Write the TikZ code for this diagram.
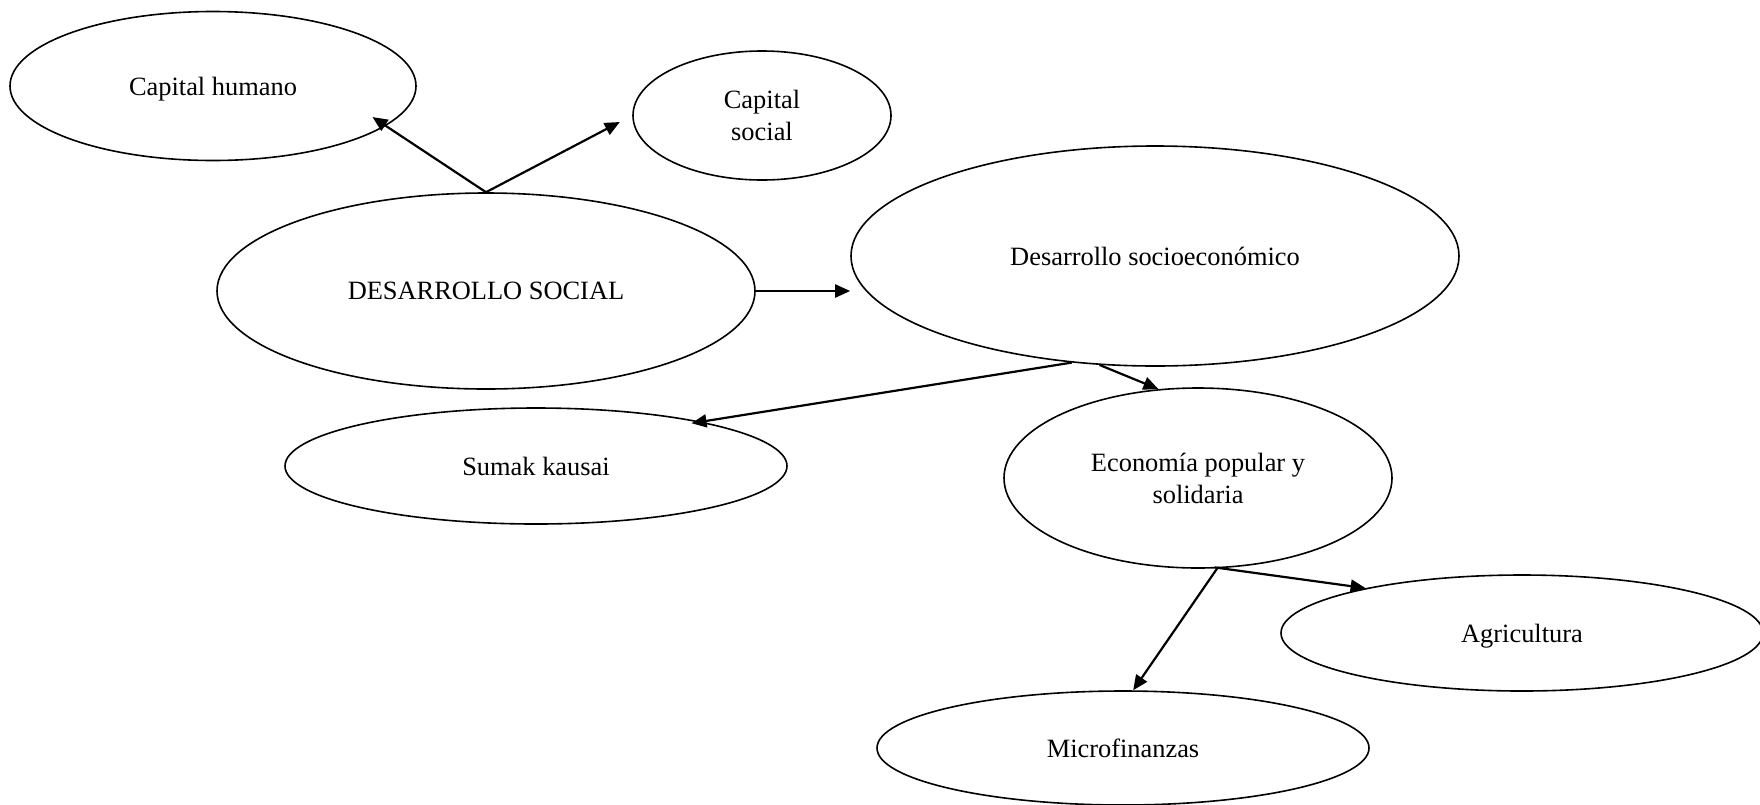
\documentclass[tikz,border=0pt]{standalone}
\usepackage{fontspec}
\setmainfont{Liberation Serif}
\usetikzlibrary{shapes.geometric,arrows.meta}
\begin{document}
\begin{tikzpicture}[x=0.5pt,y=-0.5pt,
  oval/.style={draw,ellipse,line width=0.8pt,inner sep=0pt,align=center,text depth=0pt,
    font=\fontsize{13.2}{16}\selectfont},
  conn/.style={line width=1.1pt,-{Triangle[length=7.5pt,width=6.5pt]}}]
\useasboundingbox (0,0) rectangle (1760,804);
\node[oval,minimum width=406pt*0.5,minimum height=149pt*0.5] (ch) at (213,86) {Capital humano};
\node[oval,minimum width=258pt*0.5,minimum height=129pt*0.5] (cs) at (762,115.5) {Capital\\social};
\node[oval,minimum width=538pt*0.5,minimum height=196pt*0.5] (ds) at (486,291) {DESARROLLO SOCIAL};
\node[oval,minimum width=608pt*0.5,minimum height=220pt*0.5] (dse) at (1155,256) {Desarrollo socioeconómico};
\node[oval,minimum width=502pt*0.5,minimum height=116pt*0.5] (sk) at (536,466) {Sumak kausai};
\node[oval,minimum width=388pt*0.5,minimum height=180pt*0.5] (eps) at (1198,478) {Economía popular y\\solidaria};
\node[oval,minimum width=482pt*0.5,minimum height=116pt*0.5] (agr) at (1522,633) {Agricultura};
\node[oval,minimum width=492pt*0.5,minimum height=114pt*0.5] (mf) at (1123,748) {Microfinanzas};
\draw[conn,shorten >=-8pt] (ds.north) -- (ch.-13);
\draw[conn,shorten >=7pt] (ds.north) -- (cs.west);
\draw[conn] (ds.east) -- (ds.east -| dse.west);
\draw[conn,shorten >=-5pt] (dse.232) -- (sk.15);
\draw[conn] (dse.243) -- (eps.114);
\draw[conn] (eps.-78) -- (mf.80);
\draw[conn,shorten <=-3pt] (eps.-76) -- (agr.164);
\end{tikzpicture}
\end{document}
